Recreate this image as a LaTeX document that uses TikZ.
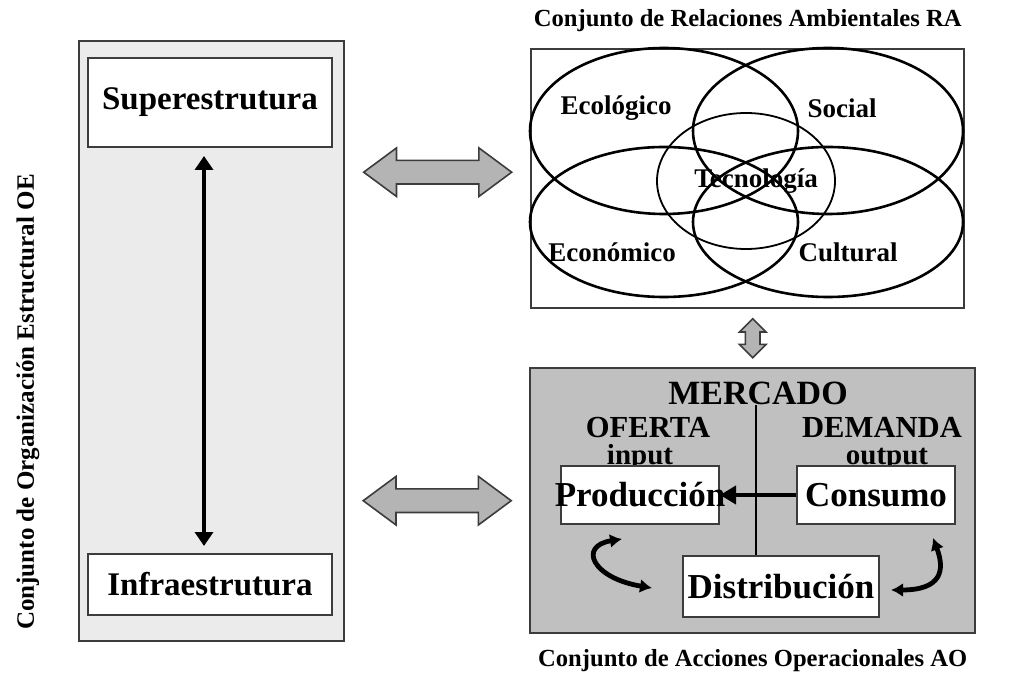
\documentclass[tikz,border=0pt]{standalone}
\usepackage{fontspec}
\setmainfont{Liberation Serif}
\usetikzlibrary{arrows.meta, positioning, calc, shapes.arrows}

\definecolor{panelgray}{HTML}{EBEBEB}
\definecolor{marketgray}{HTML}{C0C0C0}
\definecolor{arrowgray}{HTML}{B4B4B4}
\definecolor{edgegray}{HTML}{3C3C3C}

\begin{document}
\begin{tikzpicture}[
  x=0.5pt, y=-0.5pt,
  panel/.style = {draw=edgegray, line width=1.2pt, anchor=north west, inner sep=0pt},
  block/.style = {draw=edgegray, line width=1pt, fill=white, inner sep=0pt},
  heading/.style = {font=\bfseries\fontsize{12.3}{14}\selectfont, inner sep=0pt},
  tag/.style = {font=\bfseries\fontsize{13.5}{15}\selectfont, inner sep=0pt},
  bigtext/.style = {font=\bfseries\fontsize{17.5}{20}\selectfont},
  side/.style = {font=\bfseries\fontsize{15.3}{17}\selectfont, inner sep=0pt},
  small/.style = {font=\bfseries\fontsize{14.5}{16}\selectfont, inner sep=0pt},
  fatarrow/.style = {double arrow, draw=edgegray, fill=arrowgray, line width=0.8pt,
    inner sep=5.5pt, minimum width=0pt, double arrow head extend=6.25pt,
    double arrow tip angle=73},
  arrow/.style = {line width=2.4pt, {Triangle[length=7pt, width=9pt]}-{Triangle[length=7pt, width=9pt]}},
  curvy/.style = {line width=2.4pt, {Latex[length=6pt, width=7pt]}-{Latex[length=6pt, width=7pt]}}
]
\useasboundingbox (0,0) rectangle (1022,673);

% Organizacion Estructural (OE)
\node[panel, fill=panelgray, minimum width=132.5pt, minimum height=300pt] (oe) at (78,40) {};
\node[block, minimum width=122pt, minimum height=44.5pt, font=\bfseries\fontsize{16.5}{18}\selectfont] (sup) at (210,102.5) {Superestrutura};
\node[block, minimum width=122pt, minimum height=30.5pt, font=\bfseries\fontsize{16.5}{18}\selectfont] (inf) at (210,584.5) {Infraestrutura};
\draw[arrow, shorten <=4pt, shorten >=3.5pt] ([xshift=-3pt]sup.south) -- ([xshift=-3pt]inf.north);
\node[heading, rotate=90, font=\bfseries\fontsize{12.5}{14}\selectfont] (oetitle) at (28,402) {Conjunto de Organización Estructural OE};

% Relaciones Ambientales (RA)
\node[panel, fill=white, minimum width=216.5pt, minimum height=129.5pt] (ra) at (530,48) {};
\node[heading, above=8pt of ra] (ratitle) {Conjunto de Relaciones Ambientales RA};
\draw[line width=1.3pt] (664,131) ellipse [x radius=134, y radius=83];
\draw[line width=1.3pt] (828,131) ellipse [x radius=135, y radius=83];
\draw[line width=1.3pt] (664,222) ellipse [x radius=134, y radius=75];
\draw[line width=1.3pt] (828,222) ellipse [x radius=135, y radius=75];
\draw[line width=0.9pt] (746,181) ellipse [x radius=89, y radius=68];
\node[tag] (eco) at (616,108) {Ecológico};
\node[tag] (soc) at (842,108) {Social};
\node[tag] (tec) at (756,181) {Tecnología};
\node[tag] (econ) at (612,252) {Económico};
\node[tag] (cult) at (848,252) {Cultural};

% Acciones Operacionales (AO)
\node[panel, fill=marketgray, minimum width=222.5pt, minimum height=132.5pt] (ao) at (529,367) {};
\node[heading, below=7.5pt of ao] (aotitle) {Conjunto de Acciones Operacionales AO};
\node[inner sep=0pt, font=\bfseries\fontsize{17}{19}\selectfont] (merc) at (758,393) {MERCADO};
\node[side] (ofer) at (648,428) {OFERTA};
\node[small] (inp) at (640,458) {input};
\node[side] (dem) at (882,427) {DEMANDA};
\node[small] (outp) at (887,459) {output};
\node[block, minimum width=79pt, minimum height=29pt] (prod) at (640,495) {};
\node[bigtext, inner sep=0pt] (prodtext) at (prod) {Producción};
\node[block, minimum width=79pt, minimum height=29pt] (cons) at (876,495) {};
\node[bigtext, inner sep=0pt] (constext) at (cons) {Consumo};
\node[block, minimum width=98pt, minimum height=30.5pt] (dist) at (781,586.5) {};
\node[bigtext, inner sep=0pt] (disttext) at (dist) {Distribución};
\draw[line width=1.2pt] ([xshift=-1pt]merc.south) -- ([xshift=-1pt]merc.south |- dist.north);
\draw[line width=2.4pt, -{Triangle[length=8pt, width=9pt]}] (cons.west) -- (prod.east);

\coordinate (pl1) at (622,539);
\coordinate (pl2) at (652,588);
\coordinate (pr1) at (933,538);
\coordinate (pr2) at (891,590);
\draw[curvy] (pl1) .. controls (578,546) and (592,578) .. (pl2);
\draw[curvy] (pr1) .. controls (945,570) and (942,590) .. (pr2);

% links between the sets
\node[fatarrow, minimum height=74pt] (linkra) at ([yshift=3.25pt]$(oe.east |- ra.west)!0.5!(ra.west)$) {};
\node[fatarrow, minimum height=74pt] (linkao) at ($(oe.east |- ao.west)!0.5!(ao.west)$) {};
\node[fatarrow, rotate=90, minimum height=19.5pt, inner sep=3.25pt, double arrow head extend=3pt,
  double arrow tip angle=90] (linkmk) at ($(ra.south -| ao.north)!0.5!(ao.north)$) {};

\end{tikzpicture}
\end{document}
